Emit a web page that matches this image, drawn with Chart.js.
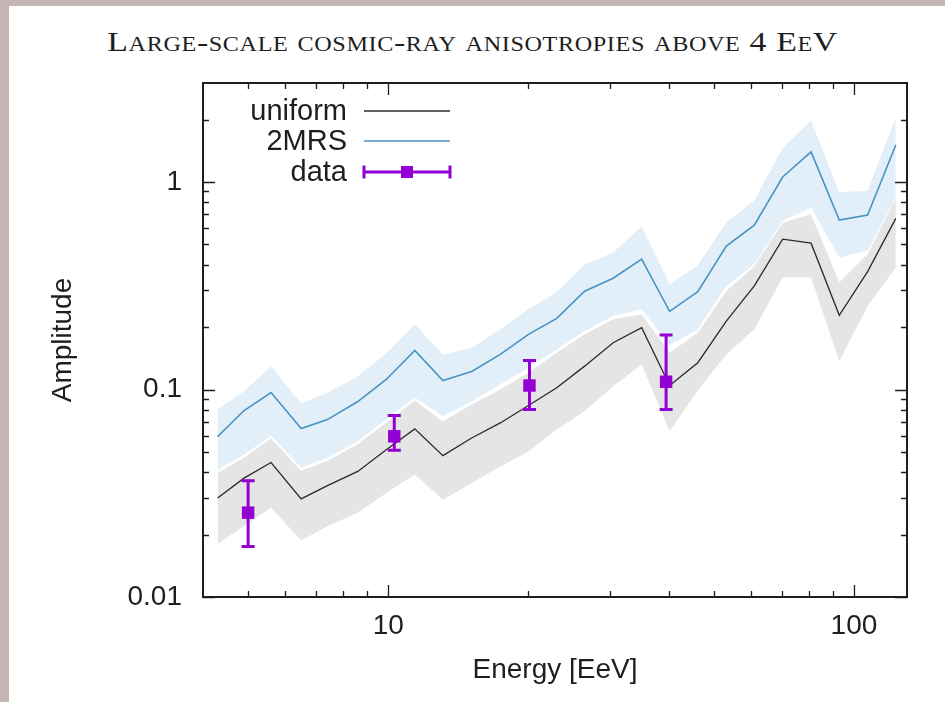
<!DOCTYPE html>
<html>
<head>
<meta charset="utf-8">
<script src="https://cdn.jsdelivr.net/npm/chart.js@4.4.1/dist/chart.umd.min.js"></script>
<style>
  html, body { margin: 0; padding: 0; width: 945px; height: 702px; overflow: hidden; background: #c5b5b5; }
  #panel { position: absolute; left: 9px; top: 6px; right: 0; bottom: 0; background: #ffffff; }
  #title { position: absolute; left: 0; top: 27px; width: 945px; text-align: center;
           font-family: 'Liberation Serif', 'DejaVu Serif', serif; font-variant: small-caps;
           font-size: 28px; line-height: 30px; letter-spacing: 0.5px; color: #1e1e1e;
           transform: scaleX(1.21); transform-origin: 472px 50%; }
  canvas { position: absolute; left: 0; top: 0; }
</style>
</head>
<body>
<div id="panel"></div>
<div id="title">Large-scale cosmic-ray anisotropies above 4 EeV</div>
<canvas id="chart" width="945" height="702"></canvas>
<script>
// Energy grid of the model curves (EeV)
const energy = [4.3, 4.9, 5.6, 6.5, 7.4, 8.6, 9.9, 11.4, 13.1, 15.1, 17.4, 20.0, 23.0,
                26.4, 30.4, 35.0, 40.2, 46.2, 53.2, 61.1, 70.3, 80.9, 93.0, 107, 123];

// 2MRS expectation: median and spread
const mrsMean = [0.0593, 0.0792, 0.0967, 0.0648, 0.0716, 0.0875, 0.1118, 0.1543, 0.1105, 0.1222, 0.1476, 0.1844, 0.2203,
                 0.2974, 0.3438, 0.4246, 0.2381, 0.2958, 0.4907, 0.6198, 1.057, 1.396, 0.6552, 0.6928, 1.509];
const mrsHigh = [0.0801, 0.0981, 0.1296, 0.0856, 0.0964, 0.1159, 0.1492, 0.2061, 0.1476, 0.1590, 0.1949, 0.2434, 0.2941,
                 0.4017, 0.4574, 0.6095, 0.3215, 0.3972, 0.6386, 0.8142, 1.46, 1.977, 0.8917, 0.9078, 2.054];
const mrsLow  = [0.0411, 0.0485, 0.0599, 0.0420, 0.0469, 0.0563, 0.0716, 0.0915, 0.0743, 0.0878, 0.1057, 0.1273, 0.1560,
                 0.1912, 0.2259, 0.2434, 0.1632, 0.1949, 0.3155, 0.4017, 0.6501, 0.7546, 0.4327, 0.4658, 0.8462];

// Isotropic (uniform) expectation: median and spread
const uniMean = [0.0300, 0.0374, 0.0445, 0.0297, 0.0344, 0.0403, 0.0513, 0.0646, 0.0480, 0.0584, 0.0690, 0.0837, 0.1019,
                 0.1296, 0.1681, 0.1987, 0.1045, 0.1346, 0.2138, 0.3155, 0.5304, 0.5073, 0.2278, 0.3700, 0.6678];
const uniHigh = [0.0397, 0.0469, 0.0580, 0.0406, 0.0454, 0.0545, 0.0693, 0.0885, 0.0703, 0.0846, 0.1000, 0.1204, 0.1504,
                 0.1844, 0.2180, 0.2303, 0.1504, 0.1879, 0.2985, 0.3927, 0.6360, 0.7004, 0.3277, 0.4490, 0.8343];
const uniLow  = [0.0180, 0.0220, 0.0269, 0.0187, 0.0219, 0.0255, 0.0317, 0.0389, 0.0294, 0.0354, 0.0426, 0.0503, 0.0641,
                 0.0785, 0.1037, 0.1321, 0.0629, 0.0989, 0.1476, 0.1949, 0.3464, 0.3464, 0.1370, 0.2526, 0.3870];

// Measured dipole amplitudes with their uncertainties
const dataEnergy = [5.0, 10.3, 20.1, 39.5];
const dataAmp    = [0.0255, 0.0595, 0.1045, 0.1090];
const dataLow    = [0.0175, 0.0509, 0.0801, 0.0801];
const dataHigh   = [0.0363, 0.0749, 0.1380, 0.1829];

// Axis ticks
const xTickLabels = [10, 100];
const xMinorTicks = [5, 6, 7, 8, 9, 20, 30, 40, 50, 60, 70, 80, 90];
const yTickLabels = [0.01, 0.1, 1];
const yMinorTicks = [0.02, 0.03, 0.04, 0.05, 0.06, 0.07, 0.08, 0.09,
                     0.2, 0.3, 0.4, 0.5, 0.6, 0.7, 0.8, 0.9, 2];

const INK = '#1e1e1e';
const PURPLE = '#9400d3';
const BLUE = '#4694c4';
const FONT = "'Liberation Sans', Arial, sans-serif";

const pts = (xs, ys) => xs.map((x, i) => ({ x: x, y: ys[i] }));

function labelFor(list, v) {
  for (const t of list) {
    if (Math.abs(Math.log10(v) - Math.log10(t)) < 1e-6) return String(t);
  }
  return '';
}

// Inward ticks on all four sides plus the frame
const framePlugin = {
  id: 'frame',
  afterDraw(chart) {
    const { ctx, chartArea: a, scales: { x, y } } = chart;
    ctx.save();
    ctx.strokeStyle = INK;
    ctx.lineWidth = 1.3;
    const major = 12, minor = 6;
    const xt = [...xTickLabels.map(v => [v, major]), ...xMinorTicks.map(v => [v, minor])];
    const yt = [...yTickLabels.map(v => [v, major]), ...yMinorTicks.map(v => [v, minor])];
    ctx.beginPath();
    for (const [v, len] of xt) {
      const px = Math.round(x.getPixelForValue(v)) + 0.5;
      ctx.moveTo(px, a.bottom); ctx.lineTo(px, a.bottom - len);
      ctx.moveTo(px, a.top);    ctx.lineTo(px, a.top + len);
    }
    for (const [v, len] of yt) {
      const py = Math.round(y.getPixelForValue(v)) + 0.5;
      ctx.moveTo(a.left, py);  ctx.lineTo(a.left + len, py);
      ctx.moveTo(a.right, py); ctx.lineTo(a.right - len, py);
    }
    ctx.stroke();
    ctx.lineWidth = 2;
    ctx.strokeRect(a.left, a.top, a.right - a.left, a.bottom - a.top);

    // key in the upper-left corner
    const rows = [
      { label: chart.data.datasets[4].label, y: 111, kind: 'line', color: '#2a2a2a', w: 1.3 },
      { label: chart.data.datasets[5].label, y: 141, kind: 'line', color: BLUE, w: 1.6 },
      { label: chart.data.datasets[6].label, y: 172, kind: 'err', color: PURPLE, w: 3 }
    ];
    ctx.font = '29px ' + FONT;
    ctx.textAlign = 'right';
    ctx.textBaseline = 'middle';
    for (const r of rows) {
      ctx.fillStyle = INK;
      ctx.fillText(r.label, 347, r.y + 1);
      ctx.strokeStyle = r.color;
      ctx.lineWidth = r.w;
      ctx.beginPath();
      ctx.moveTo(364, r.y); ctx.lineTo(450, r.y);
      if (r.kind === 'err') {
        ctx.moveTo(364, r.y - 6.5); ctx.lineTo(364, r.y + 6.5);
        ctx.moveTo(450, r.y - 6.5); ctx.lineTo(450, r.y + 6.5);
      }
      ctx.stroke();
      if (r.kind === 'err') {
        ctx.fillStyle = r.color;
        ctx.fillRect(401, r.y - 6, 12, 12);
      }
    }
    ctx.restore();
  }
};

// Vertical error bars for the measured points
const errorBarPlugin = {
  id: 'errorBars',
  afterDatasetsDraw(chart) {
    const { ctx, scales: { x, y } } = chart;
    ctx.save();
    ctx.strokeStyle = PURPLE;
    ctx.lineWidth = 3;
    ctx.beginPath();
    dataEnergy.forEach((e, i) => {
      const px = x.getPixelForValue(e);
      const lo = y.getPixelForValue(dataLow[i]);
      const hi = y.getPixelForValue(dataHigh[i]);
      ctx.moveTo(px, lo); ctx.lineTo(px, hi);
      ctx.moveTo(px - 6.5, lo); ctx.lineTo(px + 6.5, lo);
      ctx.moveTo(px - 6.5, hi); ctx.lineTo(px + 6.5, hi);
    });
    ctx.stroke();
    ctx.restore();
  }
};

const band = (data, fill, color) => ({
  data: data, fill: fill, backgroundColor: color, borderWidth: 0, borderColor: 'rgba(0,0,0,0)',
  pointRadius: 0, tension: 0, order: 3
});

new Chart(document.getElementById('chart'), {
  type: 'line',
  data: {
    datasets: [
      band(pts(energy, mrsHigh), '+1', '#e3eff8'),
      band(pts(energy, mrsLow), false, '#e3eff8'),
      band(pts(energy, uniHigh), '+1', '#e5e5e5'),
      band(pts(energy, uniLow), false, '#e5e5e5'),
      { label: 'uniform', data: pts(energy, uniMean), borderColor: '#2a2a2a', borderWidth: 1.3,
        pointRadius: 0, fill: false, tension: 0, order: 2 },
      { label: '2MRS', data: pts(energy, mrsMean), borderColor: BLUE, borderWidth: 1.6,
        pointRadius: 0, fill: false, tension: 0, order: 2 },
      { label: 'data', data: pts(dataEnergy, dataAmp), showLine: false, pointStyle: 'rect',
        pointRadius: 8.8, backgroundColor: PURPLE, borderWidth: 0, order: 1 }
    ]
  },
  options: {
    responsive: false,
    animation: false,
    devicePixelRatio: 1,
    layout: { padding: { left: 0, right: 38, top: 83, bottom: 0 } },
    plugins: {
      legend: { display: false },
      tooltip: { enabled: false },
      filler: { drawTime: 'beforeDatasetsDraw' }
    },
    scales: {
      x: {
        type: 'logarithmic', min: 4, max: 130,
        grid: { display: false, drawTicks: false },
        border: { display: false },
        ticks: { autoSkip: false, maxRotation: 0, minRotation: 0, padding: 12, color: INK,
                 font: { family: FONT, size: 28 },
                 callback: v => labelFor(xTickLabels, v) },
        title: { display: true, text: 'Energy [EeV]', color: INK,
                 font: { family: FONT, size: 28 }, padding: { top: 0, bottom: 15 } },
        afterFit(s) { s.height = 105; }
      },
      y: {
        type: 'logarithmic', min: 0.01, max: 3,
        grid: { display: false, drawTicks: false },
        border: { display: false },
        ticks: { autoSkip: false, padding: 21, color: INK,
                 font: { family: FONT, size: 28 },
                 callback: v => labelFor(yTickLabels, v) },
        title: { display: true, text: 'Amplitude', color: INK,
                 font: { family: FONT, size: 28 }, padding: { top: 46, bottom: 0 } },
        afterFit(s) { s.width = 203; }
      }
    }
  },
  plugins: [errorBarPlugin, framePlugin]
});
</script>
</body>
</html>
